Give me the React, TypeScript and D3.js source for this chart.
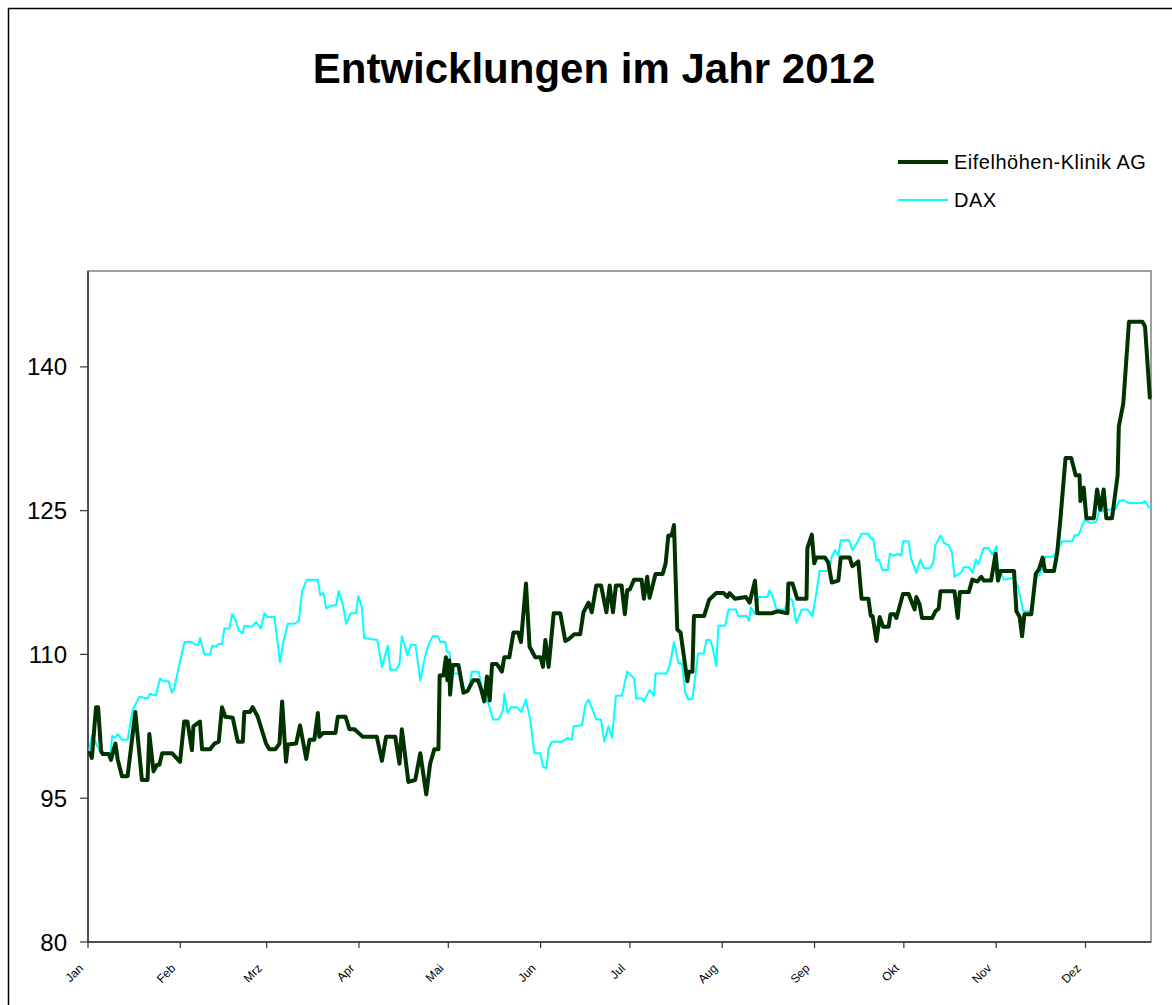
import React from 'react';
import * as d3 from 'd3';

// day of year 2012 (0 = 1 Jan) and index value
const eifelDays = [
  0.4, 1.3, 2.7, 3.4, 4.4, 5, 7, 7.7, 9.2, 10, 11.4, 13.3, 15.9, 18.1, 20, 20.6, 22, 23.2, 24, 24.9,
  28.2, 30.9, 32.3, 33.4, 34.9, 35.4, 37.6, 38.3, 41, 42.5, 43.9, 45, 46.1, 48.6, 50.3, 52, 52.5, 54.4, 55.3, 57,
  59.8, 60.9, 62.9, 64.3, 65.2, 66.5, 67.1, 69.9, 71.2, 73.3, 74.4, 76, 77.2, 77.7, 78.9, 83.1, 83.9, 86.5, 87.8, 89.5,
  92.3, 97, 98.7, 100.1, 103.2, 104.6, 105.4, 107.6, 109.9, 111.6, 113.6, 114.9, 116.3, 117.7, 118.1, 119.4, 120.2, 120.7, 121.3, 121.6,
  122.5, 124.4, 126.1, 127.5, 129.3, 131, 132, 133.1, 134, 134.9, 135.7, 137.3, 139, 139.8, 141.5, 142.9, 144.5, 145.4, 147.1, 148.3,
  150.2, 152, 152.8, 153.6, 154.7, 156.4, 158.6, 160.3, 161.5, 163.3, 165.3, 166.4, 168.1, 169.2, 170.7, 172.3, 174.1, 175.2, 176.3, 177.3,
  179.2, 180.3, 181.1, 182, 183.4, 185.9, 186.7, 187.8, 188.6, 190.6, 193, 194, 194.9, 196, 196.8, 197.9, 199, 201.3, 201.8, 203,
  203.5, 206.9, 208.6, 211, 213.5, 214.7, 215.5, 217.3, 220.9, 222.2, 224, 224.8, 229.8, 231.5, 234.9, 235.2, 236.6, 238.2, 241.3, 241.6,
  243.1, 243.9, 244.6, 247.5, 248.6, 249.8, 252, 252.8, 255.8, 256.7, 258.7, 259.8, 262.1, 262.9, 263.5, 264.8, 265.9, 267, 268.9, 269.5,
  270.8, 271.5, 273.7, 275.6, 277.6, 278.2, 279.3, 280.1, 283.5, 284.6, 285.7, 286.3, 291, 292.1, 292.8, 295.8, 297, 298.7, 300, 300.9,
  303.3, 304.8, 305.6, 306.5, 311, 311.8, 312.9, 313.7, 314.5, 316.8, 318.3, 319.4, 320.6, 321.4, 324.4, 325.5, 326.6, 328.3, 330.2, 331.7,
  333, 333.3, 334.4, 335.3, 337.8, 338.9, 340, 341.1, 342, 343.9, 345.8, 346.2, 347.7, 349.6, 354.1, 355, 356.6, 357.1,
];
const eifelValues = [
  99.9, 99.2, 104.5, 104.5, 99.9, 99.6, 99.6, 99.0, 100.7, 99.0, 97.3, 97.3, 104.0, 96.9, 96.9, 101.7, 97.8, 98.5, 98.5, 99.7,
  99.7, 98.8, 103.0, 103.0, 100.0, 102.5, 103.0, 100.1, 100.1, 100.7, 100.9, 104.5, 103.5, 103.4, 100.9, 100.9, 104.0, 104.0, 104.5, 103.5,
  100.7, 100.1, 100.1, 100.7, 105.1, 98.8, 100.6, 100.7, 102.6, 99.1, 101.1, 101.1, 103.9, 101.4, 101.8, 101.8, 103.5, 103.5, 102.2, 102.2,
  101.4, 101.4, 98.9, 101.4, 101.4, 98.6, 102.2, 96.7, 96.9, 99.7, 95.4, 98.6, 100.1, 100.1, 107.8, 107.8, 109.7, 107.3, 109.4, 105.8,
  108.9, 108.9, 106.0, 106.2, 107.3, 107.3, 106.4, 105.1, 107.7, 105.2, 109.0, 109.0, 108.2, 109.7, 109.7, 112.3, 112.3, 111.3, 117.4, 110.8,
  109.7, 109.7, 108.7, 111.5, 108.7, 114.3, 114.3, 111.4, 111.6, 112.1, 112.1, 114.4, 115.4, 114.4, 117.2, 117.2, 114.4, 117.2, 114.4, 117.2,
  117.2, 114.2, 116.7, 116.8, 117.8, 117.8, 115.8, 118.1, 115.9, 118.4, 118.4, 119.5, 122.4, 122.4, 123.5, 112.6, 112.3, 107.2, 108.2, 108.2,
  114.0, 114.0, 115.7, 116.4, 116.4, 116.0, 116.4, 115.8, 116.0, 115.4, 117.7, 114.3, 114.3, 114.5, 114.3, 117.4, 117.4, 115.8, 115.8, 121.1,
  122.5, 119.5, 120.1, 120.1, 119.6, 117.5, 117.7, 120.1, 120.1, 119.2, 119.7, 115.8, 115.8, 114.0, 114.0, 111.4, 113.9, 112.9, 112.9, 114.2,
  114.2, 113.8, 116.3, 116.3, 114.7, 116.0, 115.2, 113.8, 113.8, 114.5, 114.8, 116.6, 116.6, 113.8, 116.5, 116.5, 117.8, 117.6, 118.1, 117.7,
  117.7, 120.5, 117.7, 118.7, 118.7, 114.5, 113.9, 111.9, 114.2, 114.2, 118.4, 118.9, 120.1, 118.7, 118.7, 120.6, 124.2, 130.5, 130.5, 128.7,
  128.7, 126.0, 127.4, 124.2, 124.2, 127.2, 125.1, 127.2, 124.2, 124.2, 128.7, 133.8, 136.2, 144.7, 144.7, 144.2, 136.8, 136.8,
];

const daxDays = [
  0.4, 1.3, 2.7, 4.4, 6.6, 7.4, 8.1, 9.2, 10, 11.4, 13.3, 15, 17.3, 20, 20.8, 22.8, 24.2, 25.3, 27.1, 28.2,
  29, 30.5, 32.4, 34.9, 36.1, 37, 37.7, 39.1, 41, 41.7, 43, 43.9, 45, 45.8, 47.5, 48.4, 49.7, 50.6, 52, 52.5,
  55.1, 56.5, 58.1, 59.2, 60.4, 62.6, 63.4, 64.5, 65.6, 67.1, 69.3, 70.8, 71.9, 73.5, 77.2, 78, 79.1, 80, 81.7, 83.3,
  84.2, 85.6, 86.7, 88.2, 90, 90.8, 92, 92.7, 97.2, 98.7, 100.7, 101.5, 103.5, 104.6, 105.4, 107.3, 108.4, 110, 111.6, 113.2,
  114.4, 115.8, 117.5, 118.3, 120, 120.5, 121.4, 122.2, 124.8, 126.7, 127.9, 128.9, 131.2, 132.8, 134.5, 136, 137.9, 139.4, 139.8, 140.9,
  142, 144, 145.5, 147.1, 148.5, 149.9, 151.9, 152.8, 153.9, 154.7, 155.8, 159.2, 161.1, 162.5, 163.1, 165.9, 167, 168.1, 170.7, 172.3,
  173.4, 174.8, 176, 177.3, 179.3, 181.1, 183.4, 184.1, 186, 186.7, 188.6, 190.1, 190.6, 194.2, 195.4, 196.8, 198.3, 199.5, 200.6, 201.6,
  203, 204.9, 206.8, 207.7, 209, 209.7, 211, 211.7, 214, 215.1, 217.6, 218.4, 221.2, 222, 222.6, 224, 225.1, 228.2, 228.9, 230,
  231.2, 234, 235.2, 236.6, 237.9, 239.7, 241.6, 243.3, 244.6, 245.7, 248.9, 249.8, 250.9, 252, 252.8, 255.6, 256.7, 258.4, 259.8, 262.1,
  262.9, 263.7, 264.8, 265.6, 266.8, 268.6, 269.3, 270.6, 271.9, 273.1, 273.7, 275.6, 276.4, 278.2, 279.6, 280.7, 282.8, 283.8, 284.6, 286.3,
  287.6, 289, 290.2, 291, 292.4, 293.2, 294.1, 296, 297.1, 298.2, 299, 300.8, 302.4, 303.7, 305.1, 305.6, 307.6, 311, 312.3, 314.1,
  316.5, 318.5, 319.6, 320.8, 321.6, 324.2, 327.2, 330.6, 331.3, 332.7, 334.7, 336.9, 338.7, 339.8, 340.6, 342.3, 345, 346.2, 347.7, 349.3,
  354.1, 354.8, 356.6, 357.1,
];
const daxValues = [
  100.0, 101.5, 100.7, 99.7, 99.7, 99.0, 101.5, 101.3, 101.7, 101.1, 101.1, 104.2, 105.6, 105.4, 105.9, 105.7, 107.5, 107.2, 107.2, 106.0,
  106.5, 108.7, 111.3, 111.3, 111.0, 111.0, 111.7, 110.0, 110.0, 110.9, 110.8, 111.1, 111.1, 112.7, 112.7, 114.2, 113.5, 112.5, 112.2, 113.0,
  112.9, 113.4, 112.7, 114.3, 113.9, 113.9, 111.9, 109.2, 111.3, 113.2, 113.2, 113.5, 116.6, 117.8, 117.8, 116.2, 116.4, 114.8, 115.1, 115.1,
  116.6, 115.2, 113.2, 114.3, 114.3, 116.1, 114.9, 111.7, 111.5, 108.7, 110.9, 108.4, 108.4, 109.0, 111.9, 109.9, 111.0, 111.0, 107.3, 109.8,
  111.0, 111.9, 111.9, 111.3, 111.3, 110.3, 110.2, 108.0, 108.0, 106.0, 106.5, 108.2, 108.2, 105.6, 104.9, 103.2, 103.2, 104.2, 105.9, 103.9,
  104.5, 104.5, 104.0, 105.3, 103.2, 99.7, 99.7, 98.3, 98.1, 100.2, 100.9, 100.9, 101.3, 101.1, 102.5, 102.6, 104.7, 105.3, 103.2, 103.2,
  100.9, 102.5, 101.3, 105.7, 105.7, 108.2, 107.5, 105.4, 105.4, 105.1, 106.3, 105.7, 108.0, 108.0, 108.9, 111.3, 109.1, 109.0, 106.0, 105.3,
  105.4, 110.1, 110.1, 111.5, 111.5, 110.8, 108.8, 113.0, 113.0, 114.7, 114.7, 114.0, 114.0, 113.5, 114.9, 114.2, 116.0, 116.0, 116.7, 116.0,
  114.7, 114.7, 116.0, 115.6, 113.3, 114.7, 114.7, 114.0, 116.4, 118.7, 118.7, 120.2, 120.9, 120.3, 121.9, 121.9, 120.9, 121.7, 122.6, 122.6,
  122.1, 122.1, 119.8, 119.9, 118.8, 118.8, 120.5, 120.3, 120.5, 120.3, 121.8, 121.8, 120.0, 118.5, 119.9, 119.0, 119.0, 119.5, 121.4, 122.4,
  121.6, 121.4, 120.6, 118.1, 118.4, 118.5, 119.1, 119.1, 118.5, 119.9, 119.4, 121.1, 121.1, 120.4, 121.3, 119.0, 117.8, 118.0, 117.1, 114.5,
  114.5, 118.1, 118.3, 119.2, 120.2, 120.2, 121.8, 121.8, 122.4, 122.5, 124.0, 123.7, 123.9, 125.3, 124.9, 125.1, 125.1, 126.0, 126.1, 125.8,
  125.8, 126.0, 125.3, 125.3,
];

const monthLabels = ['Jan', 'Feb', 'Mrz', 'Apr', 'Mai', 'Jun', 'Jul', 'Aug', 'Sep', 'Okt', 'Nov', 'Dez'];
const yTicks = [80, 95, 110, 125, 140];
const seriesNames = ['Eifelhöhen-Klinik AG', 'DAX'];

const W = 1172;
const H = 1005;
const plot = { left: 88, right: 1151, top: 271, bottom: 942 };
const FONT = "Arial, 'Liberation Sans', sans-serif";
const DARK = '#003300';
const CYAN = '#00ffff';

const year0 = new Date(2012, 0, 1);
const toDate = (d: number) => new Date(year0.getTime() + d * 86400000);

export default function App() {
  const x = d3.scaleTime()
    .domain([year0, new Date(2012, 11, 23)])
    .range([plot.left, plot.right]);
  const y = d3.scaleLinear().domain([80, 150]).range([plot.bottom, plot.top]);

  const line = d3.line<[number, number]>()
    .x(d => x(toDate(d[0])))
    .y(d => y(d[1]));

  const eifel = eifelDays.map((d, i) => [d, eifelValues[i]] as [number, number]);
  const dax = daxDays.map((d, i) => [d, daxValues[i]] as [number, number]);
  const months = d3.timeMonth.range(year0, new Date(2012, 11, 2));

  return (
    <svg width={W} height={H} style={{ position: 'absolute', left: 0, top: 0, background: '#fff' }}
      fontFamily={FONT}>
      {/* outer chart border (right/bottom run off the picture) */}
      <rect x={8.5} y={8.5} width={W + 20} height={H + 20} fill="#fff" stroke="#000" strokeWidth={1.5} />

      <text x={594} y={83} textAnchor="middle" fontSize={42} fontWeight="bold">Entwicklungen im Jahr 2012</text>

      {/* legend */}
      <line x1={898} x2={948} y1={162} y2={162} stroke={DARK} strokeWidth={4} />
      <text x={954} y={169} fontSize={20} letterSpacing={0.5}>{seriesNames[0]}</text>
      <line x1={898} x2={948} y1={200} y2={200} stroke={CYAN} strokeWidth={2} />
      <text x={954} y={207} fontSize={20} letterSpacing={0.5}>{seriesNames[1]}</text>

      {/* plot frame */}
      <rect x={plot.left} y={plot.top} width={plot.right - plot.left} height={plot.bottom - plot.top}
        fill="none" stroke="#808080" strokeWidth={1.5} />

      {/* y axis */}
      <line x1={plot.left} x2={plot.left} y1={plot.top} y2={plot.bottom} stroke="#333" strokeWidth={1.5} />
      {yTicks.map(t => (
        <g key={t}>
          <line x1={plot.left - 8} x2={plot.left} y1={y(t)} y2={y(t)} stroke="#333" strokeWidth={1.2} />
          <text x={67} y={y(t)} dy="0.36em" textAnchor="end" fontSize={24}>{t}</text>
        </g>
      ))}

      {/* x axis */}
      <line x1={plot.left} x2={plot.right} y1={plot.bottom} y2={plot.bottom} stroke="#333" strokeWidth={1.5} />
      {months.map((m, i) => (
        <g key={i}>
          <line x1={x(m)} x2={x(m)} y1={plot.bottom} y2={plot.bottom + 6} stroke="#333" strokeWidth={1.2} />
          <text transform={`translate(${x(m) - 4},${plot.bottom + 27}) rotate(-45)`} textAnchor="end"
            fontSize={12}>{monthLabels[i]}</text>
        </g>
      ))}

      <path d={line(dax) || ''} fill="none" stroke={CYAN} strokeWidth={2} strokeLinejoin="round" />
      <path d={line(eifel) || ''} fill="none" stroke={DARK} strokeWidth={4} strokeLinejoin="round" />
    </svg>
  );
}
